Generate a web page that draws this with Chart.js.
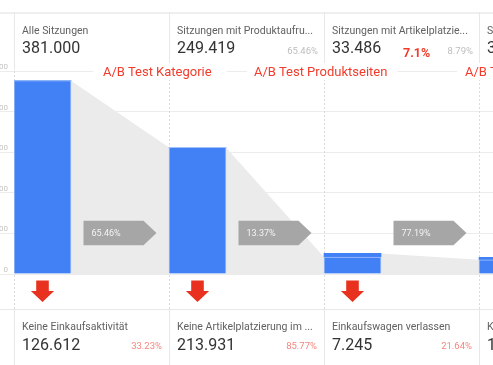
<!DOCTYPE html>
<html><head><meta charset="utf-8">
<script src="https://cdn.jsdelivr.net/npm/chart.js@4.4.0/dist/chart.umd.min.js"></script>
<style>
html,body{margin:0;padding:0;background:#fff;}
body{width:493px;height:365px;overflow:hidden;position:relative;font-family:Roboto,"Noto Sans",Arial,sans-serif;}
#c{position:absolute;left:-26px;top:0;}
.ln{position:absolute;background:#e8e8e8;}
.t{position:absolute;white-space:nowrap;line-height:1;}
.lab{font-size:10.5px;color:#616161;}
.num{font-size:16px;color:#333;}
.pct{font-size:9.5px;color:#bdbdbd;text-align:right;}
.fpct{font-size:9.5px;color:#f4877f;text-align:right;}
.hl{font-size:12.5px;font-weight:bold;color:#f23b2b;}
.ab{position:absolute;top:63px;height:17px;background:#fff;color:#f23b2b;font-size:13px;line-height:17px;white-space:nowrap;overflow:hidden;}
</style></head><body>
<canvas id="c" width="660" height="365"></canvas>
<div id="ov"></div>
<script>
// ---- data ----
const steps = ['Alle Sitzungen', 'Sitzungen mit Produktaufru...', 'Sitzungen mit Artikelplatzie...', 'Sitzungen mit Bezahlvorgang'];
const stepSessions = [381000, 249419, 33486, 33000];
const stepShare = ['', '65.46%', '8.79%', ''];
const continued = [381000, 249419, 33486, 28000];
const newEntries = [0, 0, 7000, 5000];
const flowRates = ['65.46%', '13.37%', '77.19%'];
const exitLabels = ['Keine Einkaufsaktivität', 'Keine Artikelplatzierung im ...', 'Einkaufswagen verlassen', 'Kein Bezahlvorgang'];
const exitValues = [126612, 213931, 7245, 10000];
const exitShare = ['33.23%', '85.77%', '21.64%', ''];
const abTests = ['A/B Test Kategorie', 'A/B Test Produktseiten', 'A/B Test Bezahlvorgang'];
const highlightValue = '7.1%';
const yTicks = [0, 80000, 160000, 240000, 320000, 400000];

// ---- layout ----
const colLeft = 14, colW = 155, barW = 57, axisW = 40;
const fmt = v => String(v).replace(/\B(?=(\d{3})+(?!\d))/g, '.');

const ov = document.getElementById('ov');
function el(cls, txt, css){ const d=document.createElement('div'); d.className=cls; if(txt!==null) d.textContent=txt; Object.assign(d.style,css); ov.appendChild(d); return d; }

// table lines
el('ln', null, {left:'0px', top:'12px', width:'493px', height:'2px', background:'#efefef'});
el('ln', null, {left:'0px', top:'309px', width:'493px', height:'1px'});
steps.forEach((s,i)=>{
  const x = colLeft + i*colW;
  el('ln', null, {left:x+'px', top:'12px', width:'1px', height:'58px'});
  el('ln', null, {left:x+'px', top:'309px', width:'1px', height:'56px'});
  el('t lab', s, {left:(x+8)+'px', top:'25.5px'});
  el('t num', fmt(stepSessions[i]), {left:(x+8)+'px', top:'40px'});
  if (stepShare[i]) el('t pct', stepShare[i], {left:x+'px', width:(colW-6)+'px', top:'45.5px'});
  el('t lab', exitLabels[i], {left:(x+8)+'px', top:'321.5px'});
  el('t num', fmt(exitValues[i]), {left:(x+8)+'px', top:'336.5px'});
  if (exitShare[i]) el('t fpct', exitShare[i], {left:x+'px', width:(colW-7)+'px', top:'341px'});
});
el('t hl', highlightValue, {left:'403px', top:'46.8px'});
const abBoxes = [[93,134,10],[247,150,7],[457,120,8]];
abTests.forEach((t,i)=>{ const b=abBoxes[i]; el('ab', t, {left:b[0]+'px', width:b[1]+'px', paddingLeft:b[2]+'px', boxSizing:'border-box'}); });

// ---- chart ----
const funnel = {
  id:'funnel',
  beforeDatasetsDraw(chart){
    const ctx=chart.ctx, y=chart.scales.y, area=chart.chartArea;
    const main=chart.getDatasetMeta(0).data, top=chart.getDatasetMeta(1).data;
    const base=y.getPixelForValue(0);
    ctx.save();
    ctx.strokeStyle='#dadada'; ctx.lineWidth=1; ctx.setLineDash([2,2]);
    main.forEach(b=>{ const x=Math.round(b.x-b.width/2)+0.5; ctx.beginPath(); ctx.moveTo(x,area.top); ctx.lineTo(x,base+35); ctx.stroke(); });
    ctx.setLineDash([]);
    ctx.fillStyle='#ebebeb';
    for(let i=0;i<main.length-1;i++){
      const a=top[i], b=main[i+1];
      const x1=a.x+a.width/2, x2=b.x-b.width/2;
      ctx.beginPath(); ctx.moveTo(x1,a.y); ctx.lineTo(x2,b.y); ctx.lineTo(x2,base); ctx.lineTo(x1,base); ctx.closePath(); ctx.fill();
    }
    ctx.restore();
  },
  afterDatasetsDraw(chart){
    const ctx=chart.ctx, y=chart.scales.y;
    const main=chart.getDatasetMeta(0).data;
    const base=y.getPixelForValue(0);
    ctx.save();
    for(let i=0;i<main.length-1;i++){
      const a=main[i], b=main[i+1];
      const cx=((a.x+a.width/2)+(b.x-b.width/2))/2;
      const w=73, h=24.5, tip=13, l=cx-w/2, cy=base-41;
      ctx.fillStyle='#a6a6a6';
      ctx.beginPath(); ctx.moveTo(l,cy-h/2); ctx.lineTo(l+w-tip,cy-h/2); ctx.lineTo(l+w,cy); ctx.lineTo(l+w-tip,cy+h/2); ctx.lineTo(l,cy+h/2); ctx.closePath(); ctx.fill();
      ctx.fillStyle='#f4f4f4'; ctx.font='9px Roboto'; ctx.textBaseline='middle'; ctx.textAlign='left';
      ctx.fillText(flowRates[i], l+8, cy+0.5);
    }
    ctx.fillStyle='#e8321f';
    main.forEach(b=>{
      const cx=b.x, t=base+6.5;
      ctx.beginPath(); ctx.moveTo(cx-6.3,t); ctx.lineTo(cx+6.3,t); ctx.lineTo(cx+6.3,t+10.5); ctx.lineTo(cx+11.6,t+10.5); ctx.lineTo(cx,t+21.5); ctx.lineTo(cx-11.6,t+10.5); ctx.lineTo(cx-6.3,t+10.5); ctx.closePath(); ctx.fill();
    });
    ctx.restore();
  }
};

const half = (barW/2)/colW;
new Chart(document.getElementById('c'), {
  type:'bar',
  data:{
    labels: steps.map((s,i)=>i),
    datasets:[
      {label:'Sitzungen', data: continued, backgroundColor:'#4281f5', borderColor:'#a3c1fa', borderWidth:1, barThickness:barW},
      {label:'Neu', data: newEntries, backgroundColor:'#4281f5', borderWidth:0, barThickness:barW}
    ]
  },
  options:{
    responsive:false, animation:false,
    layout:{padding:{top:71, bottom:91, left:0, right:0}},
    plugins:{legend:{display:false}, tooltip:{enabled:false}},
    scales:{
      x:{type:'linear', min:-half, max:-half+4, offset:false, display:false, stacked:true, ticks:{stepSize:1}, grid:{offset:false}},
      y:{min:yTicks[0], max:yTicks[yTicks.length-1], stacked:true,
        ticks:{stepSize:yTicks[1]-yTicks[0], padding:-8, labelOffset:-4, color:'#c4c4c4', font:{family:'Roboto', size:8}, callback:v=>fmt(v)},
        grid:{color:'#ececec', drawTicks:true, tickLength:14, tickColor:'#ececec'},
        border:{display:false},
        afterFit:s=>{ s.width=axisW; }
      }
    }
  },
  plugins:[funnel]
});
</script>
</body></html>
